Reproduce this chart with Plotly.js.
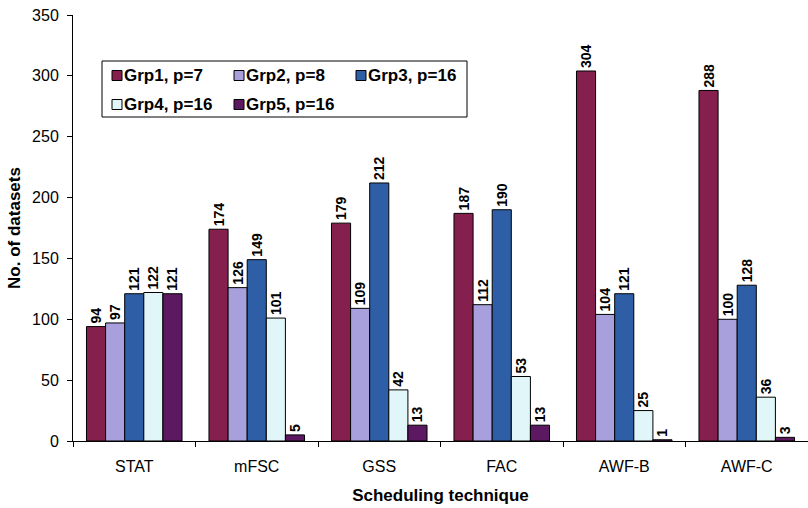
<!DOCTYPE html>
<html>
<head>
<meta charset="utf-8">
<script src="https://cdn.plot.ly/plotly-3.0.1.min.js"></script>
<style>
  html, body { margin: 0; padding: 0; background: #fff; }
  #chart { width: 808px; height: 508px; }
</style>
</head>
<body>
<div id="chart"></div>
<script>
// Scheduling techniques on the x axis
const techniques = ['STAT', 'mFSC', 'GSS', 'FAC', 'AWF-B', 'AWF-C'];

// Number of datasets per group
const grp1 = [94, 174, 179, 187, 304, 288];
const grp2 = [97, 126, 109, 112, 104, 100];
const grp3 = [121, 149, 212, 190, 121, 128];
const grp4 = [122, 101, 42, 53, 25, 36];
const grp5 = [121, 5, 13, 13, 1, 3];

const groupNames = ['Grp1, p=7', 'Grp2, p=8', 'Grp3, p=16', 'Grp4, p=16', 'Grp5, p=16'];
const groupValues = [grp1, grp2, grp3, grp4, grp5];
const groupColors = ['#85204E', '#A89FDD', '#2E5FA6', '#E0F6F8', '#5C1860'];

const font = 'Arial, "Liberation Sans", sans-serif';

// Figure geometry (px)
const W = 808, H = 508;
const M = { l: 73, r: 0, t: 15, b: 67 };
const plotW = W - M.l - M.r;
const plotH = H - M.t - M.b;
const px2x = (px) => (px - M.l) / plotW;
const px2y = (py) => (H - M.b - py) / plotH;

const traces = groupValues.map((vals, i) => ({
  type: 'bar',
  name: groupNames[i],
  x: techniques,
  y: vals,
  marker: { color: groupColors[i], line: { color: '#000', width: 1 } },
  text: vals.map(String),
  texttemplate: '%{text}',
  textposition: 'outside',
  textangle: -90,
  constraintext: 'none',
  cliponaxis: false,
  textfont: { family: font, size: 14, color: '#000', weight: 'bold' },
  hoverinfo: 'x+y+name'
}));

// Boxed legend: three entries per row
const legendBox = { x0: 102, x1: 467, y0: 61, y1: 117 };
const legendCol0 = 112, legendColStep = 122;
const legendRowY = [75.5, 104.5];
const swatch = 10;

const shapes = [{
  type: 'rect', xref: 'paper', yref: 'paper',
  x0: px2x(legendBox.x0), x1: px2x(legendBox.x1),
  y0: px2y(legendBox.y1), y1: px2y(legendBox.y0),
  line: { color: '#000', width: 1 }, fillcolor: '#fff', layer: 'above'
}];
const annotations = [];
groupNames.forEach((name, i) => {
  const col = i % 3, row = Math.floor(i / 3);
  const sx = legendCol0 + col * legendColStep;
  const cy = legendRowY[row];
  shapes.push({
    type: 'rect', xref: 'paper', yref: 'paper',
    x0: px2x(sx), x1: px2x(sx + swatch),
    y0: px2y(cy + swatch / 2), y1: px2y(cy - swatch / 2),
    line: { color: '#000', width: 1 }, fillcolor: groupColors[i], layer: 'above'
  });
  annotations.push({
    xref: 'paper', yref: 'paper',
    x: px2x(sx + swatch + 1), y: px2y(cy),
    xanchor: 'left', yanchor: 'middle',
    showarrow: false, borderpad: 0,
    text: name,
    font: { family: font, size: 17, color: '#000', weight: 'bold' }
  });
});

const layout = {
  width: W,
  height: H,
  margin: M,
  paper_bgcolor: '#fff',
  plot_bgcolor: '#fff',
  barmode: 'group',
  bargap: 0.22,
  bargroupgap: 0,
  showlegend: false,
  shapes: shapes,
  annotations: annotations,
  xaxis: {
    type: 'category',
    showline: true, linecolor: '#000', linewidth: 1,
    ticks: 'outside', tickson: 'boundaries', ticklen: 5, tickcolor: '#000',
    ticklabelstandoff: 11,
    showgrid: false, zeroline: false,
    tickfont: { family: font, size: 16, color: '#000' },
    title: { text: 'Scheduling technique', font: { family: font, size: 17, color: '#000', weight: 'bold' }, standoff: 14 }
  },
  yaxis: {
    range: [0, 350],
    tickvals: [0, 50, 100, 150, 200, 250, 300, 350],
    showline: true, linecolor: '#000', linewidth: 1,
    ticks: 'outside', ticklen: 5, tickcolor: '#000',
    ticklabelstandoff: 5,
    showgrid: false, zeroline: false,
    tickfont: { family: font, size: 16, color: '#000' },
    title: { text: 'No. of datasets', font: { family: font, size: 17, color: '#000', weight: 'bold' }, standoff: 7 }
  }
};

Plotly.newPlot('chart', traces, layout, { displayModeBar: false, staticPlot: true });
</script>
</body>
</html>
